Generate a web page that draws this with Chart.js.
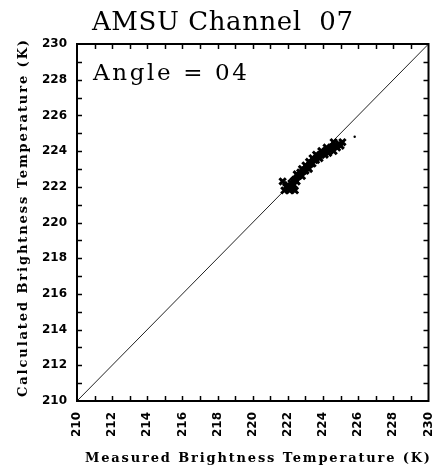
<!DOCTYPE html>
<html>
<head>
<meta charset="utf-8">
<script src="https://cdn.jsdelivr.net/npm/chart.js@4"></script>
<style>
  body { margin: 0; background: #fff; }
  canvas { display: block; }
</style>
</head>
<body>
<canvas id="scatterChart" width="436" height="470"></canvas>
<script>
// --- Data ---
const axisMin = 210;
const axisMax = 230;
const tickStep = 2;

// Measured (x) and calculated (y) brightness temperatures, K
const measuredTb = [
  221.7, 221.8, 221.9, 222.0, 222.1, 222.0, 222.2, 222.3, 222.4, 222.2,
  222.3, 222.4, 222.5, 222.6, 222.5, 222.7, 222.8, 222.9, 222.8, 223.0,
  223.1, 223.0, 223.2, 223.3, 223.2, 223.4, 223.5, 223.4, 223.6, 223.7,
  223.6, 223.8, 223.9, 224.0, 223.9, 224.1, 224.2, 224.3, 224.4, 224.2,
  224.5, 224.6, 224.7, 224.8, 224.9, 225.0, 225.1, 224.6
];
const calculatedTb = [
  222.3, 221.8, 222.0, 221.9, 221.8, 222.1, 222.0, 221.9, 221.8, 222.2,
  222.3, 222.4, 222.3, 222.6, 222.7, 222.8, 222.6, 222.9, 223.0, 222.9,
  223.1, 223.2, 223.0, 223.3, 223.4, 223.3, 223.5, 223.6, 223.5, 223.7,
  223.8, 223.6, 223.8, 223.9, 224.0, 223.8, 224.0, 223.9, 224.1, 224.2,
  224.2, 224.0, 224.3, 224.2, 224.4, 224.3, 224.5, 224.5
];
// lone stray point
const strayX = [225.8];
const strayY = [224.8];

// 1:1 reference line
const diagX = [210, 230];
const diagY = [210, 230];

const titleText = 'AMSU Channel  07';
const angleText = 'Angle = 04';
const xTitle = 'Measured Brightness Temperature (K)';
const yTitle = 'Calculated Brightness Temperature (K)';

const toPoints = (xs, ys) => xs.map((x, i) => ({ x: x, y: ys[i] }));

// draw text stretched to a given width with letter spacing
function drawSpaced(ctx, text, x, y, width) {
  ctx.letterSpacing = '0px';
  const w = ctx.measureText(text).width;
  const sp = (width - w) / (text.length - 1);
  ctx.letterSpacing = sp + 'px';
  ctx.fillText(text, x, y);
  ctx.letterSpacing = '0px';
}

// frame, inward ticks and all the text
const framePlugin = {
  id: 'frame',
  afterDraw(chart) {
    const ctx = chart.ctx;
    const a = chart.chartArea;
    const xs = chart.scales.x;
    const ys = chart.scales.y;
    ctx.save();
    ctx.strokeStyle = '#000';
    ctx.lineWidth = 2;
    ctx.strokeRect(a.left, a.top, a.right - a.left, a.bottom - a.top);

    ctx.lineWidth = 1.5;
    ctx.beginPath();
    for (let v = axisMin + 1; v < axisMax; v++) {
      const px = Math.round(xs.getPixelForValue(v)) + 0.5;
      ctx.moveTo(px, a.bottom); ctx.lineTo(px, a.bottom - 5);
      ctx.moveTo(px, a.top); ctx.lineTo(px, a.top + 5);
      const py = Math.round(ys.getPixelForValue(v)) + 0.5;
      ctx.moveTo(a.left, py); ctx.lineTo(a.left + 5, py);
      ctx.moveTo(a.right, py); ctx.lineTo(a.right - 5, py);
    }
    ctx.stroke();

    ctx.fillStyle = '#000';
    ctx.textBaseline = 'alphabetic';
    ctx.textAlign = 'left';
    ctx.font = '26px "DejaVu Serif"';
    drawSpaced(ctx, titleText, 92, 30, 261);

    ctx.font = '23px "DejaVu Serif"';
    drawSpaced(ctx, angleText, a.left + 16, a.top + 36, 154);

    ctx.font = 'bold 13px "DejaVu Serif"';
    drawSpaced(ctx, xTitle, 85, 462, 345);

    ctx.translate(27, 397);
    ctx.rotate(-Math.PI / 2);
    drawSpaced(ctx, yTitle, 0, 0, 357);
    ctx.restore();
  }
};

const tickFont = { family: 'DejaVu Sans', size: 12, weight: 'bold' };
const noPad = s => { s.paddingLeft = 0; s.paddingRight = 0; s.paddingTop = 0; s.paddingBottom = 0; };

new Chart(document.getElementById('scatterChart'), {
  type: 'scatter',
  data: {
    datasets: [
      {
        label: 'one-to-one',
        type: 'line',
        data: toPoints(diagX, diagY),
        borderColor: '#222',
        borderWidth: 1,
        pointRadius: 0,
        order: 2
      },
      {
        label: 'obs',
        data: toPoints(measuredTb, calculatedTb),
        pointStyle: 'crossRot',
        pointRadius: 4.5,
        borderColor: '#000',
        backgroundColor: '#000',
        borderWidth: 3,
        order: 1
      },
      {
        label: 'stray',
        data: toPoints(strayX, strayY),
        pointStyle: 'circle',
        pointRadius: 1.2,
        borderWidth: 0,
        backgroundColor: '#000',
        order: 1
      }
    ]
  },
  options: {
    responsive: false,
    animation: false,
    layout: { padding: { top: 44, right: 5, left: 0, bottom: 0 } },
    plugins: {
      legend: { display: false },
      tooltip: { enabled: false },
      title: { display: false }
    },
    scales: {
      x: {
        type: 'linear',
        min: axisMin,
        max: axisMax,
        grid: { display: false, drawTicks: false },
        border: { display: false },
        ticks: {
          stepSize: tickStep,
          autoSkip: false,
          maxRotation: 90,
          minRotation: 90,
          padding: 11,
          color: '#000',
          font: tickFont
        },
        afterFit: s => { s.height = 69; noPad(s); }
      },
      y: {
        type: 'linear',
        min: axisMin,
        max: axisMax,
        grid: { display: false, drawTicks: false },
        border: { display: false },
        ticks: {
          stepSize: tickStep,
          autoSkip: false,
          padding: 10,
          color: '#000',
          font: tickFont
        },
        afterFit: s => { s.width = 77; noPad(s); }
      }
    }
  },
  plugins: [framePlugin]
});
</script>
</body>
</html>
